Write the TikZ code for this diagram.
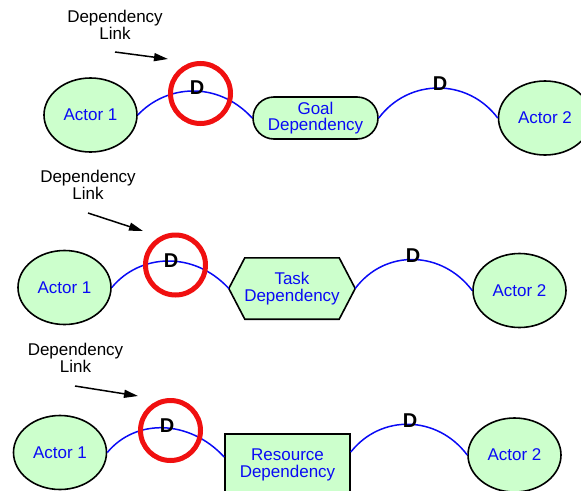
\documentclass[tikz,border=0pt]{standalone}
\usepackage{fontspec}
\setmainfont{Liberation Sans}
\usetikzlibrary{arrows.meta,calc,shapes.geometric,backgrounds}
\definecolor{actorfill}{HTML}{CCFFCC}
\definecolor{linkblue}{HTML}{0A0AF5}
\definecolor{ringred}{HTML}{F01010}

\begin{document}
\begin{tikzpicture}[x=1pt,y=-1pt,
  txt/.style={font=\fontsize{17}{16.5}\selectfont, align=center, inner sep=0pt},
  actor/.style={ellipse, draw=black, line width=1.6pt, fill=actorfill,
    minimum width=93pt, minimum height=74pt, inner sep=0pt,
    text=linkblue, font=\fontsize{17}{16.5}\selectfont},
  goalbox/.style={rectangle, rounded corners=21pt, draw=black, line width=1.6pt,
    fill=actorfill, minimum width=125pt, minimum height=42pt, inner sep=0pt,
    text=linkblue, align=center, font=\fontsize{17}{16.5}\selectfont},
  resbox/.style={rectangle, draw=black, line width=1.6pt, fill=actorfill,
    minimum width=125pt, minimum height=62pt, inner sep=0pt,
    text=linkblue, align=center, font=\fontsize{17}{16.5}\selectfont},
  taskbox/.style={rectangle, minimum width=126pt, minimum height=61pt, inner sep=0pt,
    text=linkblue, align=center, font=\fontsize{17}{16.5}\selectfont},
  hexline/.style={draw=black, line width=1.6pt, fill=actorfill},
  deplink/.style={draw=linkblue, line width=1.5pt},
  ring/.style={circle, draw=ringred, line width=5pt, minimum size=60pt, inner sep=0pt},
  dmark/.style={font=\bfseries\fontsize{20}{20}\selectfont, inner sep=0pt},
  pointer/.style={draw=black, line width=1.5pt, -{Triangle[length=14pt,width=8pt]}}
]
\useasboundingbox (0,0) rectangle (581,490);

% ---------- goal dependency ----------
\node[actor] (a11) at (90.5,115) {Actor 1};
\node[goalbox] (goal) at (315.5,118) {Goal\\Dependency};
\node[actor] (a12) at (545,118) {Actor 2};
\draw[deplink] (a11.east) .. controls +(28,-30) and +(-35,-38) .. (goal.west);
\draw[deplink] (goal.east) .. controls +(30,-40) and +(-30,-40) .. (a12.west);
\node[ring] (ring1) at (200.5,93.5) {};
\node[dmark] (d11) at (197,88) {D};
\node[dmark] (d12) at (440,84) {D};
\node[txt] (lab1) at (115,25) {Dependency\\Link};
\coordinate (from1) at (115,52);
\coordinate (tip1) at (168,59);
\draw[pointer] (from1) -- (tip1);

% ---------- task dependency ----------
\node[actor] (a21) at (64.5,287.5) {Actor 1};
\node[taskbox] (task) at (292,288.5) {Task\\Dependency};
\begin{scope}[on background layer]
  \draw[hexline] (task.west) -- ($(task.north west)+(16,0)$) -- ($(task.north east)+(-16,0)$)
    -- (task.east) -- ($(task.south east)+(-16,0)$) -- ($(task.south west)+(16,0)$) -- cycle;
\end{scope}
\node[actor] (a22) at (519.5,290.5) {Actor 2};
\draw[deplink] (a21.east) .. controls +(28,-34) and +(-35,-38) .. (task.west);
\draw[deplink] (task.east) .. controls +(30,-40) and +(-30,-40) .. (a22.west);
\node[ring] (ring2) at (175.5,265) {};
\node[dmark] (d21) at (171,261) {D};
\node[dmark] (d22) at (413,256) {D};
\node[txt] (lab2) at (88,185) {Dependency\\Link};
\coordinate (from2) at (88,213);
\coordinate (tip2) at (143,231);
\draw[pointer] (from2) -- (tip2);

% ---------- resource dependency ----------
\node[actor] (a31) at (60,452.5) {Actor 1};
\node[resbox] (res) at (287.5,465) {Resource\\Dependency};
\node[actor] (a32) at (514.5,455) {Actor 2};
\draw[deplink] (a31.east) .. controls +(28,-34) and +(-35,-38) .. ([yshift=8pt]res.west);
\draw[deplink] ([yshift=13pt]res.east) .. controls +(30,-38) and +(-30,-40) .. (a32.west);
\node[ring] (ring3) at (170.5,430.5) {};
\node[dmark] (d31) at (167,426) {D};
\node[dmark] (d32) at (410,421) {D};
\node[txt] (lab3) at (75.5,358) {Dependency\\Link};
\coordinate (from3) at (75,386);
\coordinate (tip3) at (138,396);
\draw[pointer] (from3) -- (tip3);
\end{tikzpicture}
\end{document}
